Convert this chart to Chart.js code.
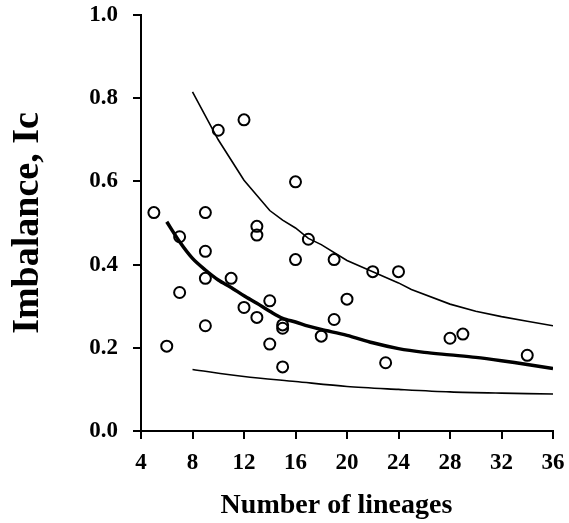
<!DOCTYPE html>
<html>
<head>
<meta charset="utf-8">
<script src="https://cdn.jsdelivr.net/npm/chart.js@4.4.1/dist/chart.umd.min.js"></script>
<style>
html,body{margin:0;padding:0;background:#fff;}
#wrap{position:relative;width:569px;height:523px;}
</style>
</head>
<body>
<div id="wrap"><canvas id="c" width="569" height="523"></canvas></div>
<script>
// Observed clades: number of lineages vs imbalance Ic
const pointX = [5, 6, 7, 7, 9, 9, 9, 9, 10, 11, 12, 12, 13, 13, 13, 14, 14, 15, 15, 15, 16, 16, 17, 18, 19, 19, 20, 22, 23, 24, 28, 29, 34];
const pointY = [0.525, 0.204, 0.467, 0.333, 0.525, 0.432, 0.367, 0.253, 0.723, 0.367, 0.748, 0.297, 0.492, 0.471, 0.273, 0.313, 0.209, 0.255, 0.247, 0.154, 0.599, 0.412, 0.461, 0.228, 0.412, 0.268, 0.317, 0.383, 0.164, 0.383, 0.223, 0.233, 0.182];

// Upper thin curve
const upperX = [8, 10, 12, 14, 15, 16, 17, 18, 20, 22, 24, 25, 28, 30, 32, 34, 36];
const upperY = [0.815, 0.700, 0.603, 0.530, 0.507, 0.488, 0.463, 0.448, 0.410, 0.383, 0.356, 0.340, 0.305, 0.288, 0.275, 0.264, 0.253];

// Mean (thick) curve
const meanX = [6, 7, 8, 9, 10, 11, 12, 13, 14, 15, 16, 17, 18, 20, 22, 24, 26, 28, 30, 32, 34, 36];
const meanY = [0.503, 0.455, 0.415, 0.387, 0.363, 0.345, 0.325, 0.307, 0.288, 0.271, 0.262, 0.252, 0.244, 0.230, 0.212, 0.198, 0.189, 0.183, 0.177, 0.169, 0.160, 0.150];

// Lower thin curve
const lowerX = [8, 12, 16, 20, 24, 28, 32, 36];
const lowerY = [0.148, 0.131, 0.119, 0.107, 0.100, 0.094, 0.091, 0.089];

const xTicks = [4, 8, 12, 16, 20, 24, 28, 32, 36];
const yTicks = [0.0, 0.2, 0.4, 0.6, 0.8, 1.0];
const xTitle = 'Number of lineages';
const yTitle = 'Imbalance, Ic';

const zip = (xs, ys) => xs.map((x, i) => ({x: x, y: ys[i]}));
const FONT = "'Liberation Serif', 'Times New Roman', serif";

new Chart(document.getElementById('c'), {
  type: 'scatter',
  data: {
    datasets: [
      {data: zip(upperX, upperY), showLine: true, borderColor: '#000', borderWidth: 1.6, pointRadius: 0, fill: false, tension: 0},
      {data: zip(meanX, meanY), showLine: true, borderColor: '#000', borderWidth: 3.5, pointRadius: 0, fill: false, tension: 0.3},
      {data: zip(lowerX, lowerY), showLine: true, borderColor: '#000', borderWidth: 1.6, pointRadius: 0, fill: false, tension: 0.3},
      {data: zip(pointX, pointY), showLine: false, pointStyle: 'circle', pointRadius: 5.5, pointBorderWidth: 2, pointBorderColor: '#000', pointBackgroundColor: 'rgba(0,0,0,0)'}
    ]
  },
  options: {
    responsive: false,
    animation: false,
    devicePixelRatio: 1,
    layout: {padding: {left: 0, right: 16, top: 15, bottom: 0}},
    plugins: {legend: {display: false}, tooltip: {enabled: false}},
    scales: {
      x: {
        type: 'linear', min: 4, max: 36,
        afterBuildTicks: s => { s.ticks = xTicks.map(v => ({value: v})); },
        afterFit: s => { s.height = 92; s.paddingLeft = 0; s.paddingRight = 0; },
        grid: {drawOnChartArea: false, drawTicks: true, tickLength: 8, lineWidth: 2, color: '#000'},
        border: {display: true, color: '#000', width: 2},
        ticks: {color: '#000', padding: 10, font: {family: FONT, size: 23, weight: 'bold'}, callback: v => String(v), maxRotation: 0},
        title: {display: true, text: xTitle + '\u00a0\u00a0\u00a0', color: '#000', font: {family: FONT, size: 28, weight: 'bold'}, padding: {top: 0, bottom: 0}}
      },
      y: {
        type: 'linear', min: 0, max: 1,
        afterBuildTicks: s => { s.ticks = yTicks.map(v => ({value: v})); },
        afterFit: s => { s.width = 141; s.paddingTop = 0; s.paddingBottom = 0; },
        grid: {drawOnChartArea: false, drawTicks: true, tickLength: 8, lineWidth: 2, color: '#000'},
        border: {display: true, color: '#000', width: 2},
        ticks: {color: '#000', padding: 15, font: {family: FONT, size: 23, weight: 'bold'}, callback: v => Number(v).toFixed(1)},
        title: {display: true, text: yTitle, color: '#000', font: {family: FONT, size: 38, weight: 'bold'}, padding: {top: 5, bottom: 0}}
      }
    }
  }
});
</script>
</body>
</html>
